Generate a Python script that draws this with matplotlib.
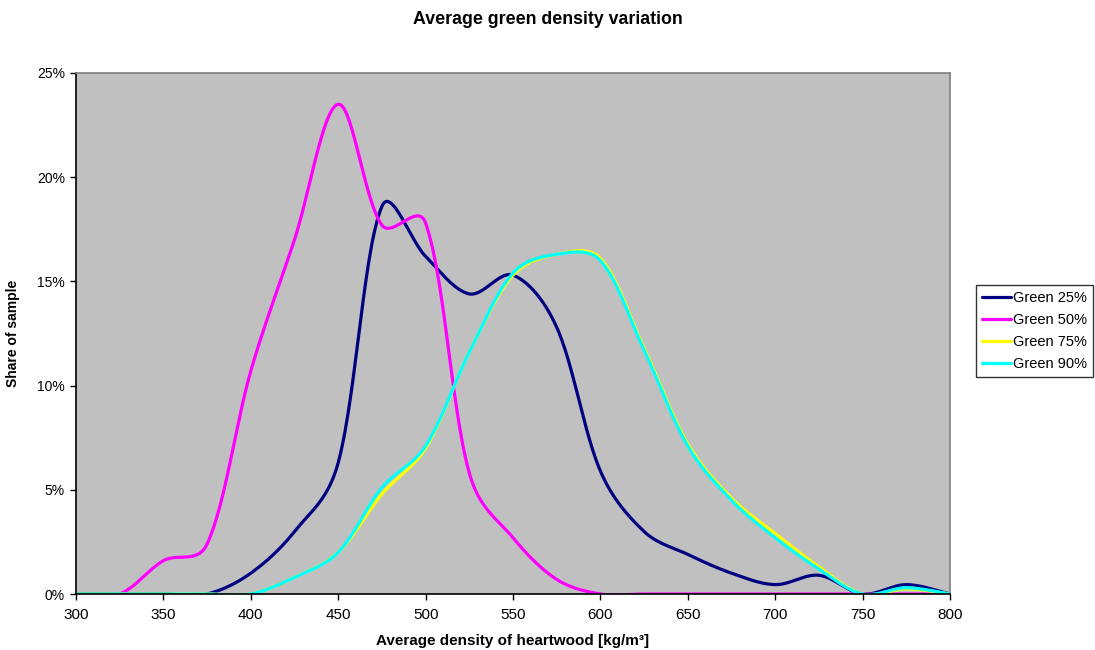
import numpy as np
import matplotlib.pyplot as plt
from matplotlib.ticker import FuncFormatter

plt.rcParams['font.family'] = ['Liberation Sans', 'DejaVu Sans']

# density classes [kg/m3]
density = [300, 325, 350, 375, 400, 425, 450, 475, 500, 525, 550,
           575, 600, 625, 650, 675, 700, 725, 750, 775, 800]

# share of sample [%]
green_25 = [0, 0, 0, 0, 1.0, 3.0, 6.3, 18.6, 16.2, 14.4, 15.3,
            12.8, 5.9, 3.0, 1.9, 1.0, 0.45, 0.9, 0, 0.45, 0]
green_50 = [0, 0, 1.6, 2.4, 10.7, 17.0, 23.5, 17.7, 17.8, 5.8, 2.7,
            0.7, 0, 0, 0, 0, 0, 0, 0, 0, 0]
green_75 = [0, 0, 0, 0, 0, 0.8, 2.0, 4.8, 7.0, 11.6, 15.3,
            16.3, 16.1, 11.8, 7.2, 4.6, 2.9, 1.3, 0, 0.25, 0]
green_90 = [0, 0, 0, 0, 0, 0.8, 2.0, 5.1, 7.1, 11.6, 15.4,
            16.3, 16.0, 11.7, 7.1, 4.5, 2.7, 1.2, 0, 0.3, 0]

series = [('Green 25%', green_25, '#000080'),
          ('Green 50%', green_50, '#FF00FF'),
          ('Green 75%', green_75, '#FFFF00'),
          ('Green 90%', green_90, '#00FFFF')]

# pixels per data unit, so the smoothing works on screen geometry like Excel
SX, SY = 874 / 500, 521 / 25


def smooth(xs, ys, n=30):
    # smoothed line: cubic bezier through each point, handles shortened on the short side
    p = np.column_stack([np.asarray(xs, float) * SX, np.asarray(ys, float) * SY])
    m = len(p)
    h_in = np.zeros_like(p)
    h_out = np.zeros_like(p)
    for i in range(m):
        a = p[max(i - 1, 0)]
        b = p[min(i + 1, m - 1)]
        d_in = np.linalg.norm(p[i] - a)
        d_out = np.linalg.norm(b - p[i])
        if d_in + d_out == 0:
            continue
        tang = (b - a) / 6
        h_in[i] = tang * np.sqrt(2 * d_in / (d_in + d_out))
        h_out[i] = tang * np.sqrt(2 * d_out / (d_in + d_out))
    t = np.linspace(0, 1, n)[:, None]
    pts = []
    for i in range(m - 1):
        p0, p3 = p[i], p[i + 1]
        p1 = p0 + h_out[i]
        p2 = p3 - h_in[i + 1]
        c = ((1 - t) ** 3) * p0 + 3 * ((1 - t) ** 2) * t * p1 + 3 * (1 - t) * t ** 2 * p2 + t ** 3 * p3
        pts.append(c)
    pts = np.vstack(pts)
    return pts[:, 0] / SX, pts[:, 1] / SY


fig = plt.figure(figsize=(10.95, 6.5), dpi=100)
ax = fig.add_axes([76 / 1095, 56 / 650, 874 / 1095, 521 / 650])
ax.set_facecolor('#C0C0C0')

for name, vals, col in series:
    sx, sy = smooth(density, vals)
    ax.plot(sx, sy, color=col, lw=2.3, label=name, solid_capstyle='round')

ax.set_xlim(300, 800)
ax.set_ylim(0, 25)
ax.set_xticks(range(300, 801, 50))
ax.set_yticks(range(0, 26, 5))
ax.yaxis.set_major_formatter(FuncFormatter(lambda v, p: '%d%%' % v))
ax.tick_params(direction='out', length=4, width=1, pad=4)
ax.tick_params(axis='x', labelsize=11, pad=6)
ax.tick_params(axis='y', labelsize=10)

for s in ['top', 'right']:
    ax.spines[s].set_color('#808080')
    ax.spines[s].set_linewidth(1.2)
for s in ['left', 'bottom']:
    ax.spines[s].set_color('black')
    ax.spines[s].set_linewidth(1.2)

ax.set_xlabel('Average density of heartwood [kg/m³]', fontsize=11, fontweight='bold', labelpad=9)
ax.set_ylabel('Share of sample', fontsize=10, fontweight='bold', labelpad=12)
fig.text(0.5, 1 - 19 / 650, 'Average green density variation', ha='center', va='center',
         fontsize=12.8, fontweight='bold')

leg = ax.legend(loc='center left', bbox_to_anchor=(976 / 1095, 1 - 331 / 650),
                bbox_transform=fig.transFigure, frameon=True, fancybox=False,
                fontsize=10.5, handlelength=2.0, handletextpad=0.15, borderpad=0.4,
                labelspacing=0.55, borderaxespad=0)
leg.get_frame().set_edgecolor('black')
leg.get_frame().set_linewidth(1.0)

fig.savefig('out.png', dpi=100)
